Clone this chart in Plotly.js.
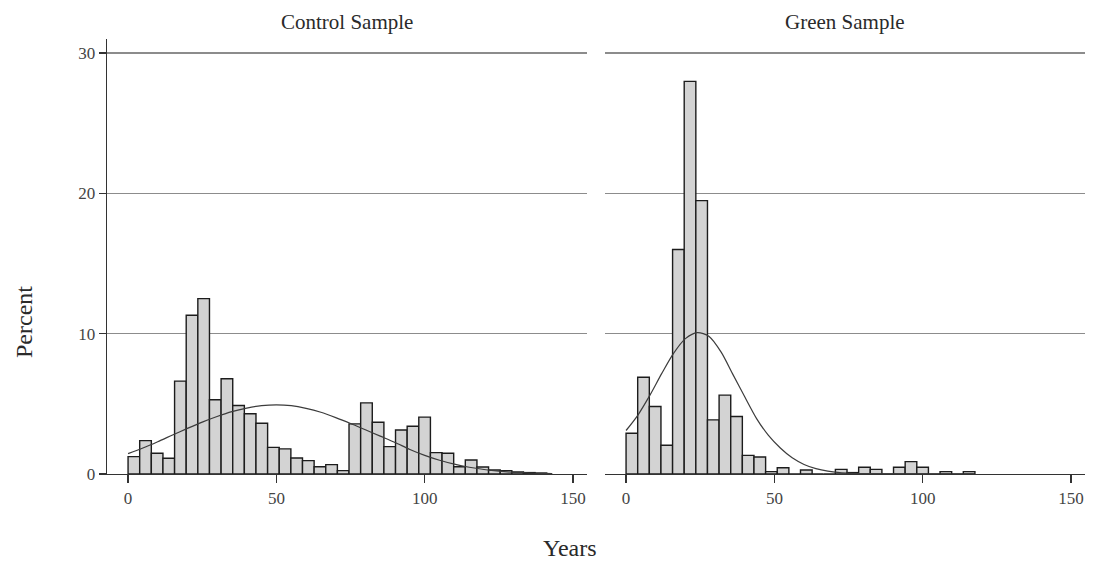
<!DOCTYPE html>
<html>
<head>
<meta charset="utf-8">
<script src="https://cdn.plot.ly/plotly-3.0.1.min.js"></script>
<style>
  html, body { margin: 0; padding: 0; background: #ffffff; }
  #chart { width: 1094px; height: 564px; }
</style>
</head>
<body>
<div id="chart"></div>
<script>
// Histogram bin width (years) shared by both panels; bins start at 0.
const binWidth = 3.92;

// Percent of firms in each age bin.
const controlPct = [
  1.24, 2.38, 1.48, 1.12, 6.62, 11.31, 12.5, 5.29, 6.79, 4.88,
  4.29, 3.62, 1.90, 1.79, 1.14, 0.95, 0.52, 0.67, 0.24, 3.57,
  5.07, 3.69, 1.95, 3.14, 3.40, 4.05, 1.52, 1.48, 0.52, 1.00,
  0.50, 0.29, 0.24, 0.14, 0.10, 0.07
];
const greenPct = [
  2.90, 6.90, 4.81, 2.05, 16.0, 27.98, 19.48, 3.86, 5.62, 4.10,
  1.33, 1.21, 0.17, 0.45, 0, 0.29, 0, 0, 0.33, 0.10,
  0.48, 0.33, 0, 0.48, 0.88, 0.48, 0, 0.17, 0, 0.17
];

// Fitted normal density overlays (percent scale).
const controlCurveX = [0, 5, 10, 15, 20, 25, 30, 35, 40, 45, 50, 55, 60, 65, 70,
                       75, 80, 85, 90, 95, 100, 105, 110, 115, 120, 125, 130, 135, 140, 143];
const controlCurveY = [1.45, 1.85, 2.3, 2.78, 3.25, 3.7, 4.1, 4.45, 4.7, 4.87, 4.93, 4.87, 4.68, 4.4, 4.02,
                       3.6, 3.15, 2.7, 2.25, 1.75, 1.33, 0.98, 0.7, 0.48, 0.32, 0.2, 0.12, 0.07, 0.04, 0.03];
const greenCurveX = [0, 4, 8, 12, 16, 20, 24, 28, 32, 36, 40, 44, 48, 52, 56,
                     60, 64, 68, 72, 76, 80, 90, 100, 117];
const greenCurveY = [3.1, 4.2, 5.6, 7.15, 8.6, 9.65, 10.08, 9.8, 8.7, 7.1, 5.5, 3.95, 2.75, 1.85, 1.15,
                     0.68, 0.38, 0.2, 0.1, 0.05, 0.02, 0.005, 0, 0];

// Tick values.
const xTicks = [0, 50, 100, 150];
const yTicks = [0, 10, 20, 30];

// Left edge of every bin.
const binLefts = n => Array.from({length: n}, (_, i) => i * binWidth);

const W = 1094, H = 564;
const serif = 'Liberation Serif';

const barStyle = {
  color: '#d3d3d3',
  line: { color: '#1c1c1c', width: 1.4 }
};
const curveStyle = { color: '#3c3c3c', width: 1.2, shape: 'spline', smoothing: 0.8 };

const traces = [
  { type: 'bar', x: binLefts(controlPct.length), y: controlPct, offset: 0, width: binWidth,
    marker: barStyle, xaxis: 'x', yaxis: 'y', hoverinfo: 'x+y' },
  { type: 'scatter', mode: 'lines', x: controlCurveX, y: controlCurveY,
    line: curveStyle, xaxis: 'x', yaxis: 'y' },
  { type: 'bar', x: binLefts(greenPct.length), y: greenPct, offset: 0, width: binWidth,
    marker: barStyle, xaxis: 'x2', yaxis: 'y2', hoverinfo: 'x+y' },
  { type: 'scatter', mode: 'lines', x: greenCurveX, y: greenCurveY,
    line: curveStyle, xaxis: 'x2', yaxis: 'y2' }
];

const yDomain = [1 - 474 / H, 1 - 38.6 / H];
const xRange = [-7.1, 154.7];
const yRange = [0, 31.03];
const tickFont = { family: serif, size: 17, color: '#444' };

const xCommon = {
  range: xRange, tickvals: xTicks, ticks: 'outside', ticklen: 8, tickwidth: 1.2,
  tickcolor: '#333', showline: true, linecolor: '#333', linewidth: 1.3,
  showgrid: false, zeroline: false, fixedrange: true, tickfont: tickFont
};
const yCommon = {
  range: yRange, tickvals: yTicks, showgrid: true, gridcolor: '#8c8c8c', gridwidth: 1.2,
  zeroline: false, fixedrange: true, domain: yDomain
};

const layout = {
  width: W, height: H,
  margin: { l: 0, r: 0, t: 0, b: 0 },
  paper_bgcolor: '#ffffff', plot_bgcolor: '#ffffff',
  showlegend: false, bargap: 0,
  xaxis: Object.assign({}, xCommon, { domain: [107 / W, 587 / W], anchor: 'y' }),
  xaxis2: Object.assign({}, xCommon, { domain: [605 / W, 1085 / W], anchor: 'y2' }),
  yaxis: Object.assign({}, yCommon, {
    anchor: 'x', showline: true, linecolor: '#333', linewidth: 1.3,
    ticks: 'outside', ticklen: 7, tickwidth: 1.2, tickcolor: '#333', tickfont: tickFont
  }),
  yaxis2: Object.assign({}, yCommon, {
    anchor: 'x2', matches: 'y', showline: false, showticklabels: false, ticks: ''
  }),
  annotations: [
    { text: 'Control Sample', x: 347 / W, y: 1 - 22 / H, xref: 'paper', yref: 'paper',
      showarrow: false, xanchor: 'center', yanchor: 'middle',
      font: { family: serif, size: 21, color: '#2a2a2a' } },
    { text: 'Green Sample', x: 845 / W, y: 1 - 22 / H, xref: 'paper', yref: 'paper',
      showarrow: false, xanchor: 'center', yanchor: 'middle',
      font: { family: serif, size: 21, color: '#2a2a2a' } },
    { text: 'Percent', x: 24 / W, y: 1 - 322 / H, xref: 'paper', yref: 'paper',
      showarrow: false, xanchor: 'center', yanchor: 'middle', textangle: -90,
      font: { family: serif, size: 24, color: '#2a2a2a' } },
    { text: 'Years', x: 570 / W, y: 1 - 548 / H, xref: 'paper', yref: 'paper',
      showarrow: false, xanchor: 'center', yanchor: 'middle',
      font: { family: serif, size: 24, color: '#2a2a2a' } }
  ]
};

Plotly.newPlot('chart', traces, layout, { displayModeBar: false, staticPlot: true });
</script>
</body>
</html>
